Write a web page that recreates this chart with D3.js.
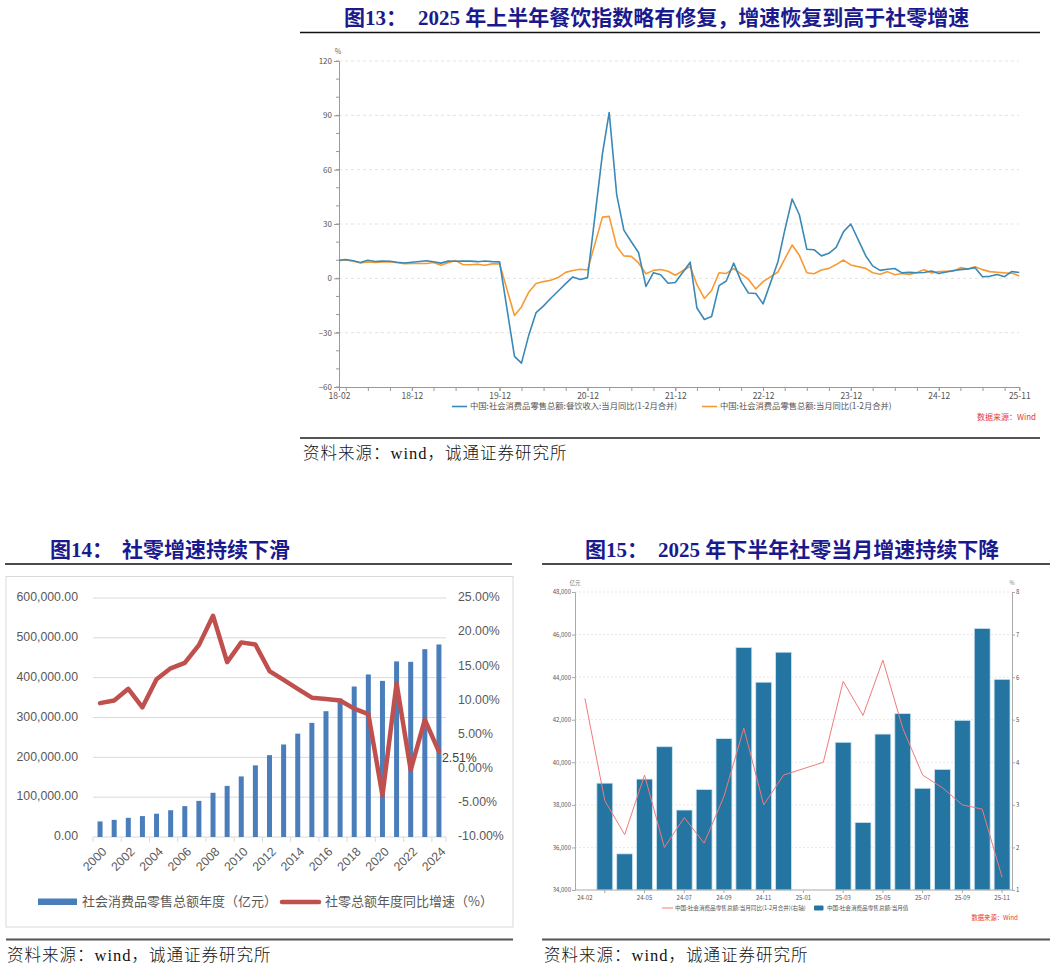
<!DOCTYPE html>
<html><head><meta charset="utf-8">
<script src="https://cdn.jsdelivr.net/npm/d3@7"></script>
<style>body{margin:0;background:#fff;} svg{display:block;}</style>
</head><body>
<svg id="c" width="1056" height="970"></svg>
<script>
// ================= DATA =================
// Fig 13: monthly YoY (%), Jan merged into Feb
const fig13Dates = [
 "2018-02","2018-03","2018-04","2018-05","2018-06","2018-07","2018-08","2018-09","2018-10","2018-11","2018-12",
 "2019-02","2019-03","2019-04","2019-05","2019-06","2019-07","2019-08","2019-09","2019-10","2019-11","2019-12",
 "2020-02","2020-03","2020-04","2020-05","2020-06","2020-07","2020-08","2020-09","2020-10","2020-11","2020-12",
 "2021-02","2021-03","2021-04","2021-05","2021-06","2021-07","2021-08","2021-09","2021-10","2021-11","2021-12",
 "2022-02","2022-03","2022-04","2022-05","2022-06","2022-07","2022-08","2022-09","2022-10","2022-11","2022-12",
 "2023-02","2023-03","2023-04","2023-05","2023-06","2023-07","2023-08","2023-09","2023-10","2023-11","2023-12",
 "2024-02","2024-03","2024-04","2024-05","2024-06","2024-07","2024-08","2024-09","2024-10","2024-11","2024-12",
 "2025-02","2025-03","2025-04","2025-05","2025-06","2025-07","2025-08","2025-09","2025-10","2025-11"];
const fig13Catering = [
 10.0,10.4,9.7,8.7,10.0,9.3,9.5,9.4,8.9,8.5,8.9,
 9.7,9.2,8.4,9.5,9.4,9.6,9.5,9.2,9.6,9.2,9.1,
 -43.1,-46.8,-31.1,-18.9,-15.2,-11.0,-7.0,-2.9,0.8,-0.6,0.4,
 68.9,91.6,46.4,26.6,20.2,14.3,-4.5,3.1,2.0,-2.7,-2.3,
 8.9,-16.4,-22.7,-21.1,-4.0,-1.5,8.4,-1.7,-8.1,-8.4,-14.1,
 9.2,26.3,43.8,35.1,16.1,15.8,12.4,13.8,17.1,25.8,30.0,
 12.5,6.9,4.4,5.0,5.4,3.0,3.3,3.1,3.2,4.0,2.7,
 4.3,4.8,5.2,5.9,0.9,1.1,2.1,0.9,3.8,3.2];
const fig13Retail = [
 9.7,10.1,9.4,8.5,9.0,8.8,9.0,9.2,8.6,8.1,8.2,
 8.2,8.7,7.2,8.6,9.8,7.6,7.5,7.8,7.2,8.0,8.0,
 -20.5,-15.8,-7.5,-2.8,-1.8,-1.1,0.5,3.3,4.3,5.0,4.6,
 33.8,34.2,17.7,12.4,12.1,8.5,2.5,4.4,4.9,3.9,1.7,
 6.7,-3.5,-11.1,-6.7,3.1,2.7,5.4,2.5,-0.5,-5.9,-1.8,
 3.5,10.6,18.4,12.7,3.1,2.5,4.6,5.5,7.6,10.1,7.4,
 5.5,3.1,2.3,3.7,2.0,2.7,2.1,3.2,4.8,3.0,3.7,
 4.0,5.9,5.1,6.4,4.8,3.7,3.4,3.0,2.9,1.3];
const fig13YTicks = [-60,-30,0,30,60,90,120];
const fig13XLabels = ["2018-02","2018-12","2019-12","2020-12","2021-12","2022-12","2023-12","2024-12","2025-11"];
const fig13Names = ["中国:社会消费品零售总额:餐饮收入:当月同比(1-2月合并)","中国:社会消费品零售总额:当月同比(1-2月合并)"];

// Fig 14: yearly totals (亿元) and YoY (%)
const fig14Years = ["2000","2001","2002","2003","2004","2005","2006","2007","2008","2009","2010","2011","2012",
 "2013","2014","2015","2016","2017","2018","2019","2020","2021","2022","2023","2024"];
const fig14Sales = [39106,43055,48136,52516,58500,67200,77500,90700,110995,128331,152083,179804,205517,
 232253,259487,286588,315806,347327,377783,408017,391981,440823,439733,471495,483345];
const fig14Growth = [9.6,10.0,11.7,9.0,13.1,14.7,15.5,18.1,22.4,15.6,18.5,18.2,14.3,
 13.0,11.7,10.4,10.2,10.0,8.8,8.0,-3.9,12.5,-0.2,7.2,2.51];
const fig14LeftTicks = [0,100000,200000,300000,400000,500000,600000];
const fig14RightTicks = [-10,-5,0,5,10,15,20,25];
const fig14Names = ["社会消费品零售总额年度（亿元）","社零总额年度同比增速（%）"];

// Fig 15: monthly value (亿元) and YoY (%)
const fig15Months = ["24-02","24-03","24-04","24-05","24-06","24-07","24-08","24-09","24-10","24-11","24-12",
 "25-01","25-02","25-03","25-04","25-05","25-06","25-07","25-08","25-09","25-10","25-11"];
const fig15Sales = [null,39020,35699,39211,40732,37757,38726,41112,45396,43763,45172,
 null,null,40940,37174,41326,42287,38780,39668,41971,46291,43898];
const fig15Growth = [5.5,3.1,2.3,3.7,2.0,2.7,2.1,3.2,4.8,3.0,3.7,
 null,4.0,5.9,5.1,6.4,4.8,3.7,3.4,3.0,2.9,1.3];
const fig15LeftTicks = [34000,36000,38000,40000,42000,44000,46000,48000];
const fig15RightTicks = [1,2,3,4,5,6,7,8];
const fig15XLabels = ["24-02","24-05","24-07","24-09","24-11","25-01","25-03","25-05","25-07","25-09","25-11"];
const fig15Names = ["中国:社会消费品零售总额:当月同比(1-2月合并)(右轴)","中国:社会消费品零售总额:当月值"];

const titles = [
  ["图13：","2025 年上半年餐饮指数略有修复，增速恢复到高于社零增速"],
  ["图14：","社零增速持续下滑"],
  ["图15：","2025 年下半年社零当月增速持续下降"]];
const sourceText = "资料来源：wind，诚通证券研究所";
const wmText = "数据来源：Wind";

// ================= DRAW =================
const svg = d3.select("#c");
svg.append("rect").attr("width",1056).attr("height",970).attr("fill","#fff");
const CJK = "'Noto Sans CJK SC','Noto Sans',sans-serif";
const TITLEF = "'Liberation Serif','Noto Sans CJK SC',serif";
const SRCF = "'Liberation Serif','Noto Sans CJK SC',serif";
const TCOL = "#1a1a8e";

function title(t, x1, x2, y, lx1, lx2, ly){
  svg.append("text").attr("x",x1).attr("y",y).text(t[0])
    .attr("font-family",TITLEF).attr("font-weight","bold").attr("font-size",21).attr("fill",TCOL);
  svg.append("text").attr("x",x2).attr("y",y).text(t[1])
    .attr("font-family",TITLEF).attr("font-weight","bold").attr("font-size",21).attr("fill",TCOL);
  svg.append("line").attr("x1",lx1).attr("x2",lx2).attr("y1",ly).attr("y2",ly)
    .attr("stroke","#111").attr("stroke-width",1.5);
}
function source(x, y, lx1, lx2, ly){
  svg.append("line").attr("x1",lx1).attr("x2",lx2).attr("y1",ly).attr("y2",ly)
    .attr("stroke","#555").attr("stroke-width",2);
  svg.append("text").attr("x",x).attr("y",y).text(sourceText)
    .attr("font-family",SRCF).attr("font-size",16.5).attr("letter-spacing",1).attr("font-weight",300)
    .attr("fill","#111").attr("dominant-baseline","middle");
}

// ---------- Fig 13 ----------
title(titles[0], 344, 418, 24.5, 300, 1040, 32.5);
(function(){
  const parse = d3.timeParse("%Y-%m");
  const x = d3.scaleTime().domain([parse("2018-02"),parse("2025-11")]).range([339,1019.3]);
  const y = d3.scaleLinear().domain([-60,120]).range([387,61]);
  const g = svg.append("g");
  g.selectAll(".gr").data(fig13YTicks.filter(v=>v>-60)).enter().append("line")
    .attr("x1",339).attr("x2",1019).attr("y1",d=>y(d)).attr("y2",d=>y(d))
    .attr("stroke","#e3e3e3").attr("stroke-dasharray","3,3");
  const minor = d3.range(-60,121,10);
  g.selectAll(".mt").data(minor).enter().append("line")
    .attr("x1",336).attr("x2",339).attr("y1",d=>y(d)).attr("y2",d=>y(d)).attr("stroke","#999");
  const ya = d3.axisLeft(y).tickValues(fig13YTicks).tickSize(5).tickPadding(2);
  const yg = g.append("g").attr("transform","translate(339,0)").call(ya);
  yg.select(".domain").attr("stroke","#999");
  yg.selectAll(".tick line").attr("stroke","#999");
  yg.selectAll("text").attr("font-family",CJK).attr("font-size",8).attr("fill","#555");
  g.append("text").attr("x",338).attr("y",54).text("%").attr("font-family",CJK)
    .attr("font-size",7).attr("fill","#666").attr("text-anchor","middle");
  const labDates = fig13XLabels.map(parse);
  const qDates = d3.timeMonth.range(parse("2018-02"), parse("2025-12")).filter(d=>d.getMonth()%3===2);
  const xa = d3.axisBottom(x).tickValues(qDates).tickSize(4).tickFormat("");
  const xg = g.append("g").attr("transform","translate(0,387)").call(xa);
  xg.select(".domain").attr("stroke","#999");
  xg.selectAll(".tick line").attr("stroke","#999");
  const xa2 = d3.axisBottom(x).tickValues(labDates).tickSize(4).tickPadding(2).tickFormat(d3.timeFormat("%y-%m"));
  const xg2 = g.append("g").attr("transform","translate(0,387)").call(xa2);
  xg2.select(".domain").remove();
  xg2.selectAll(".tick line").attr("stroke","#999");
  xg2.selectAll("text").attr("font-family",CJK).attr("font-size",8.5).attr("fill","#555");
  const pts = (vals)=>fig13Dates.map((d,i)=>({d:parse(d),v:vals[i]}));
  const line = d3.line().x(p=>x(p.d)).y(p=>y(p.v));
  g.append("path").datum(pts(fig13Retail)).attr("d",line).attr("fill","none")
    .attr("stroke","#f79a34").attr("stroke-width",1.6).attr("stroke-linejoin","round");
  g.append("path").datum(pts(fig13Catering)).attr("d",line).attr("fill","none")
    .attr("stroke","#3a89b6").attr("stroke-width",1.6).attr("stroke-linejoin","round");
  const leg = [{c:"#3a89b6",x:452,n:fig13Names[0]},{c:"#f79a34",x:702,n:fig13Names[1]}];
  leg.forEach(l=>{
    g.append("line").attr("x1",l.x).attr("x2",l.x+15).attr("y1",406.5).attr("y2",406.5)
      .attr("stroke",l.c).attr("stroke-width",1.6);
    g.append("text").attr("x",l.x+18).attr("y",407).text(l.n).attr("font-family",CJK)
      .attr("font-size",8.3).attr("fill","#555").attr("dominant-baseline","middle");
  });
  g.append("text").attr("x",1036).attr("y",418).text(wmText).attr("text-anchor","end")
    .attr("font-family",CJK).attr("font-size",8).attr("fill","#e53935").attr("dominant-baseline","middle");
})();
source(303, 455, 300, 1040, 438);

// ---------- Fig 14 ----------
title(titles[1], 50, 122, 556.5, 5, 512, 564);
(function(){
  const g = svg.append("g");
  g.append("rect").attr("x",6).attr("y",576.5).attr("width",507).attr("height",350.5)
    .attr("fill","#fff").attr("stroke","#d9d9d9").attr("stroke-width",1);
  const x = d3.scaleBand().domain(fig14Years).range([93,446]);
  const bw = x.bandwidth();
  const yL = d3.scaleLinear().domain([0,600000]).range([837,598]);
  const yR = d3.scaleLinear().domain([-10,25]).range([837,598]);
  g.selectAll(".gr").data(fig14LeftTicks).enter().append("line")
    .attr("x1",93).attr("x2",446).attr("y1",d=>yL(d)).attr("y2",d=>yL(d))
    .attr("stroke","#d9d9d9").attr("stroke-width",1);
  const tickX = fig14Years.filter((d,i)=>i%2===0).map(d=>x(d)).concat([446]);
  g.selectAll(".xt").data(tickX).enter().append("line")
    .attr("x1",d=>d).attr("x2",d=>d).attr("y1",837).attr("y2",842).attr("stroke","#d9d9d9");
  g.selectAll(".ll").data(fig14LeftTicks).enter().append("text")
    .attr("x",78).attr("y",d=>yL(d)).attr("text-anchor","end").attr("dominant-baseline","middle")
    .text(d3.format(",.2f")).attr("font-family","'Liberation Sans',sans-serif").attr("font-size",12.3).attr("fill","#595959");
  g.selectAll(".rl").data(fig14RightTicks).enter().append("text")
    .attr("x",458).attr("y",d=>yR(d)).attr("dominant-baseline","middle")
    .text(d=>d.toFixed(2)+"%").attr("font-family","'Liberation Sans',sans-serif").attr("font-size",12.3).attr("fill","#595959");
  const barW = 5;
  g.selectAll(".b").data(fig14Years).enter().append("rect")
    .attr("x",d=>x(d)+bw/2-barW/2).attr("width",barW)
    .attr("y",(d,i)=>yL(fig14Sales[i])).attr("height",(d,i)=>837-yL(fig14Sales[i]))
    .attr("fill","#4a7ebb");
  g.selectAll(".xl").data(fig14Years.filter((d,i)=>i%2===0)).enter().append("text")
    .attr("transform",d=>`translate(${x(d)+bw/2+5},${850}) rotate(-45)`)
    .attr("text-anchor","end").attr("dominant-baseline","middle").text(d=>d)
    .attr("font-family","'Liberation Sans',sans-serif").attr("font-size",12.3).attr("fill","#595959");
  const line = d3.line().x((d,i)=>x(fig14Years[i])+bw/2).y(d=>yR(d));
  g.append("path").datum(fig14Growth).attr("d",line).attr("fill","none")
    .attr("stroke","#c0504d").attr("stroke-width",4.5).attr("stroke-linejoin","round").attr("stroke-linecap","round");
  const last = fig14Growth.length-1;
  g.append("text").attr("x",x(fig14Years[last])+bw/2+3).attr("y",yR(fig14Growth[last])+7.5)
    .attr("dominant-baseline","middle").text(fig14Growth[last].toFixed(2)+"%")
    .attr("font-family","'Liberation Sans',sans-serif").attr("font-size",12.3).attr("fill","#404040");
  g.append("rect").attr("x",38).attr("y",898.5).attr("width",39).attr("height",6.5).attr("fill","#4a7ebb");
  g.append("text").attr("x",82).attr("y",902.5).text(fig14Names[0]).attr("dominant-baseline","middle")
    .attr("font-family",CJK).attr("font-size",13).attr("fill","#595959");
  g.append("line").attr("x1",282).attr("x2",319).attr("y1",902).attr("y2",902)
    .attr("stroke","#c0504d").attr("stroke-width",4.5).attr("stroke-linecap","round");
  g.append("text").attr("x",325).attr("y",902.5).text(fig14Names[1]).attr("dominant-baseline","middle")
    .attr("font-family",CJK).attr("font-size",13).attr("fill","#595959");
})();
source(7, 957, 6, 513, 939.5);

// ---------- Fig 15 ----------
title(titles[2], 585, 658, 556.5, 542, 1050, 564);
(function(){
  const g = svg.append("g");
  const x = d3.scaleBand().domain(fig15Months).range([575,1012]);
  const bw = x.bandwidth();
  const yL = d3.scaleLinear().domain([34000,48000]).range([890,592]);
  const yR = d3.scaleLinear().domain([1,8]).range([890,592]);
  g.selectAll(".gr").data(fig15LeftTicks.slice(1)).enter().append("line")
    .attr("x1",575).attr("x2",1012).attr("y1",d=>yL(d)).attr("y2",d=>yL(d))
    .attr("stroke","#e8e8e8").attr("stroke-dasharray","2,2");
  const barW = bw*0.8;
  g.selectAll(".b").data(fig15Months.map((m,i)=>({m,v:fig15Sales[i]})).filter(d=>d.v!=null)).enter().append("rect")
    .attr("x",d=>x(d.m)+bw/2-barW/2).attr("width",barW)
    .attr("y",d=>yL(d.v)).attr("height",d=>890-yL(d.v))
    .attr("fill","#2475a2").attr("stroke","#cfe6f2").attr("stroke-width",0.8);
  const pts = fig15Months.map((m,i)=>({m,v:fig15Growth[i]})).filter(d=>d.v!=null);
  const line = d3.line().x(d=>x(d.m)+bw/2).y(d=>yR(d.v));
  g.append("path").datum(pts).attr("d",line).attr("fill","none")
    .attr("stroke","#ef7b7b").attr("stroke-width",1);
  const ya = d3.axisLeft(yL).tickValues(fig15LeftTicks).tickSize(3).tickPadding(1).tickFormat(d3.format(","));
  const yg = g.append("g").attr("transform","translate(575,0)").call(ya);
  yg.select(".domain").attr("stroke","#aaa");
  yg.selectAll(".tick line").attr("stroke","#aaa");
  yg.selectAll("text").attr("font-family",CJK).attr("font-size",6).attr("fill","#555");
  const yra = d3.axisRight(yR).tickValues(fig15RightTicks).tickSize(3).tickPadding(1).tickFormat(d3.format("d"));
  const yrg = g.append("g").attr("transform","translate(1012,0)").call(yra);
  yrg.select(".domain").attr("stroke","#aaa");
  yrg.selectAll(".tick line").attr("stroke","#aaa");
  yrg.selectAll("text").attr("font-family",CJK).attr("font-size",6).attr("fill","#555");
  g.append("line").attr("x1",575).attr("x2",1012).attr("y1",890).attr("y2",890).attr("stroke","#aaa");
  const tickM = fig15Months.filter((d,i)=>i%2===1);
  g.selectAll(".xt").data(tickM).enter().append("line")
    .attr("x1",d=>x(d)+bw/2).attr("x2",d=>x(d)+bw/2).attr("y1",890).attr("y2",893).attr("stroke","#aaa");
  g.selectAll(".xl").data(fig15XLabels).enter().append("text")
    .attr("x",d=>x(d)+bw/2).attr("y",898).attr("text-anchor","middle").attr("dominant-baseline","middle")
    .text(d=>d).attr("font-family",CJK).attr("font-size",6).attr("fill","#555");
  g.append("text").attr("x",575).attr("y",585).text("亿元").attr("text-anchor","middle")
    .attr("font-family",CJK).attr("font-size",5.5).attr("fill","#777");
  g.append("text").attr("x",1012).attr("y",585).text("%").attr("text-anchor","middle")
    .attr("font-family",CJK).attr("font-size",5.5).attr("fill","#777");
  g.append("line").attr("x1",662).attr("x2",673).attr("y1",908).attr("y2",908).attr("stroke","#ef7b7b").attr("stroke-width",1);
  g.append("text").attr("x",675).attr("y",908.3).text(fig15Names[0]).attr("dominant-baseline","middle")
    .attr("font-family",CJK).attr("font-size",5.6).attr("fill","#555");
  g.append("rect").attr("x",814).attr("y",905.5).attr("width",9.5).attr("height",5).attr("rx",1).attr("fill","#2475a2");
  g.append("text").attr("x",827).attr("y",908.3).text(fig15Names[1]).attr("dominant-baseline","middle")
    .attr("font-family",CJK).attr("font-size",5.6).attr("fill","#555");
  g.append("text").attr("x",1018).attr("y",918.5).text(wmText).attr("text-anchor","end").attr("dominant-baseline","middle")
    .attr("font-family",CJK).attr("font-size",6.3).attr("fill","#e53935");
})();
source(544, 957, 542, 1050, 939.5);
</script>
</body></html>
